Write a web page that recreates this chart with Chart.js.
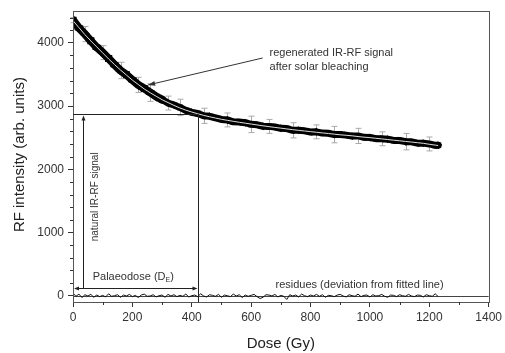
<!DOCTYPE html>
<html><head><meta charset="utf-8">
<script src="https://cdn.jsdelivr.net/npm/chart.js@4.4.1/dist/chart.umd.min.js"></script>
<style>html,body{margin:0;padding:0;background:#fff}#wrap{width:505px;height:353px}</style>
</head><body><div id="wrap"><canvas id="c" width="505" height="353"></canvas></div>
<script>
// ---- data ----
const xTicks = [0,200,400,600,800,1000,1200,1400];
const yTicks = [0,1000,2000,3000,4000];
const fitDose = [0,20,40,60,80,100,120,140,160,180,200,220,240,260,280,300,320,340,360,380,400,420,440,460,480,500,520,540,560,580,600,620,640,660,680,700,720,740,760,780,800,820,840,860,880,900,920,940,960,980,1000,1020,1040,1060,1080,1100,1120,1140,1160,1180,1200,1220,1230];
const fitSignal = [4350,4240,4130,4030,3935,3840,3745,3655,3570,3490,3410,3340,3270,3210,3155,3100,3055,3010,2970,2935,2905,2878,2852,2830,2810,2790,2774,2758,2743,2729,2715,2701,2687,2674,2662,2650,2638,2626,2615,2605,2595,2585,2575,2565,2555,2545,2537,2529,2517,2508,2500,2490,2480,2470,2460,2450,2440,2430,2420,2410,2395,2382,2375];
const measDose = fitDose;
const measSignal = [4358,4235,4138,4032,3928,3845,3752,3652,3562,3494,3412,3334,3278,3214,3150,3102,3047,3016,2978,2932,2900,2882,2845,2838,2812,2787,2780,2750,2747,2736,2710,2703,2680,2678,2668,2647,2643,2616,2617,2608,2589,2592,2572,2569,2548,2550,2540,2524,2527,2505,2503,2484,2482,2476,2456,2455,2436,2434,2412,2413,2400,2378,2380];
const measErr = [40,40,120,40,40,110,40,40,130,40,40,120,40,140,40,40,110,40,130,40,40,40,120,40,40,40,110,40,40,40,130,40,40,110,40,40,40,120,40,40,40,110,40,40,130,40,40,40,120,40,40,40,110,40,40,40,130,40,40,40,110,40,40];
const residStep = 10;
const residValues = [40,-10,25,-30,15,-5,20,-25,10,-15,5,-20,30,-10,0,15,-25,10,-5,20,-15,5,-30,10,25,-10,-5,15,-20,0,10,-25,20,-5,15,-15,5,-10,25,-20,0,10,-15,30,-5,-20,15,5,-10,20,-25,10,0,-15,25,-5,15,-30,10,-10,5,20,-15,-45,-25,15,10,-5,20,-20,5,-10,-60,15,-5,10,-20,25,0,-15,10,-5,20,-10,15,-25,5,0,-15,10,20,-5,-20,15,0,-10,25,-15,5,10,-20,15,-5,0,20,-10,-25,10,5,-15,15,0,-10,20,-5,-15,10,5,-20,15,0,-10,30,-15];
const palaeoDose = 420;
const naturalSignal = 2875;
const arrowDose = 33;
const arrowLevel = 125;

const pts = (xs, ys) => ys.map((y,i)=>({x:xs[i], y}));
const residPts = residValues.map((v,i)=>({x:i*residStep, y:v}));
const FONT = '"Liberation Sans", Arial, sans-serif';
const TXT = '#333';

function arrowHead(ctx, x, y, ang, len, w) {
  ctx.save(); ctx.translate(x,y); ctx.rotate(ang);
  ctx.beginPath(); ctx.moveTo(0,0); ctx.lineTo(-len, w); ctx.lineTo(-len,-w); ctx.closePath(); ctx.fill();
  ctx.restore();
}

const decor = {
  id:'decor',
  beforeDatasetsDraw(chart){
    const ctx=chart.ctx, X=v=>chart.scales.x.getPixelForValue(v), Y=v=>chart.scales.y.getPixelForValue(v);
    ctx.save();
    ctx.strokeStyle='#aaa'; ctx.lineWidth=1;
    measSignal.forEach((v,i)=>{
      const x=Math.round(X(measDose[i]))+0.5, e=measErr[i];
      ctx.beginPath();
      ctx.moveTo(x,Y(v-e)); ctx.lineTo(x,Y(v+e));
      ctx.moveTo(x-3,Y(v-e)); ctx.lineTo(x+3,Y(v-e));
      ctx.moveTo(x-3,Y(v+e)); ctx.lineTo(x+3,Y(v+e));
      ctx.stroke();
    });
    const a=chart.chartArea;
    ctx.strokeStyle='#444';
    const y0=Math.round(Y(0))+0.5;
    ctx.beginPath(); ctx.moveTo(a.left,y0); ctx.lineTo(a.right,y0); ctx.stroke();
    ctx.restore();
  },
  afterDraw(chart){
    const ctx=chart.ctx, a=chart.chartArea, xs=chart.scales.x, ys=chart.scales.y;
    const X=v=>xs.getPixelForValue(v), Y=v=>ys.getPixelForValue(v);
    ctx.save();
    ctx.strokeStyle='#555'; ctx.lineWidth=1;
    ctx.strokeRect(Math.round(a.left)+0.5, Math.round(a.top)+0.5, Math.round(a.right-a.left), Math.round(a.bottom-a.top));
    ctx.strokeStyle='#333'; ctx.beginPath();
    for(let v=100; v<1400; v+=200){ const x=Math.round(X(v))+0.5; ctx.moveTo(x,a.bottom); ctx.lineTo(x,a.bottom+3); }
    for(let v=200; v<4500; v+=200){ if(v%1000===0) continue; const y=Math.round(Y(v))+0.5; ctx.moveTo(a.left,y); ctx.lineTo(a.left-3,y); }
    ctx.stroke();
    ctx.strokeStyle='#222'; ctx.fillStyle='#222';
    const yn=Math.round(Y(naturalSignal))+0.5, xp=Math.round(X(palaeoDose))+0.5;
    ctx.beginPath();
    ctx.moveTo(a.left,yn); ctx.lineTo(xp,yn);
    ctx.moveTo(xp,yn); ctx.lineTo(xp,a.bottom);
    ctx.stroke();
    const xa=Math.round(X(arrowDose))+0.5, ya=Math.round(Y(arrowLevel))+0.5;
    ctx.beginPath(); ctx.moveTo(xa,ya); ctx.lineTo(xa,yn+4); ctx.stroke();
    arrowHead(ctx, xa, yn+1, -Math.PI/2, 5, 2);
    ctx.beginPath(); ctx.moveTo(a.left+4,ya); ctx.lineTo(xp-4,ya); ctx.stroke();
    arrowHead(ctx, a.left+1, ya, Math.PI, 5, 2);
    arrowHead(ctx, xp-1, ya, 0, 5, 2);
    ctx.strokeStyle='#333'; ctx.fillStyle='#333';
    const sx=X(639), sy=Y(3760), ex=X(253), ey=Y(3333);
    ctx.beginPath(); ctx.moveTo(sx,sy); ctx.lineTo(ex,ey); ctx.stroke();
    arrowHead(ctx, ex, ey, Math.atan2(ey-sy, ex-sx), 7, 2.5);
    ctx.fillStyle=TXT; ctx.textBaseline='middle';
    ctx.font='11px '+FONT; ctx.textAlign='left';
    ctx.fillText('regenerated IR-RF signal', X(662), Y(3840));
    ctx.fillText('after solar bleaching', X(662), Y(3617));
    ctx.fillText('residues (deviation from fitted line)', X(682), Y(165));
    const p1='Palaeodose (D', p2='E', p3=')';
    ctx.font='11px '+FONT; const w1=ctx.measureText(p1).width, w3=ctx.measureText(p3).width;
    ctx.font='7px '+FONT; const w2=ctx.measureText(p2).width;
    let tx=X(203)-(w1+w2+w3)/2, ty=Y(300);
    ctx.font='11px '+FONT; ctx.fillText(p1,tx,ty);
    ctx.font='7px '+FONT; ctx.fillText(p2,tx+w1,ty+3);
    ctx.font='11px '+FONT; ctx.fillText(p3,tx+w1+w2,ty);
    ctx.save(); ctx.translate(X(75), Y(1564)); ctx.rotate(-Math.PI/2);
    ctx.font='10px '+FONT; ctx.textAlign='center'; ctx.fillText('natural IR-RF signal',0,0);
    ctx.restore();
    ctx.fillStyle='#222'; ctx.font='15px '+FONT; ctx.textAlign='center';
    ctx.fillText('Dose (Gy)', (a.left+a.right)/2, 344);
    ctx.save(); ctx.translate(20,(a.top+a.bottom)/2-2); ctx.rotate(-Math.PI/2);
    ctx.fillText('RF intensity (arb. units)',0,0); ctx.restore();
    ctx.restore();
  }
};

new Chart(document.getElementById('c'), {
  type:'line',
  data:{datasets:[
    {label:'fit', data:pts(fitDose,fitSignal), borderColor:'#ddd', borderWidth:1, pointRadius:0, tension:0, order:0},
    {label:'measured', data:pts(measDose,measSignal), borderColor:'#000', borderWidth:7, tension:0,
      pointStyle:'rect', pointRadius:c=>c.parsed && c.parsed.x<300?5:4, pointRotation:c=>(c.dataIndex%3)*20,
      pointBackgroundColor:'#000', pointBorderColor:'#000', pointBorderWidth:0,
      borderJoinStyle:'round', borderCapStyle:'round', order:1,
      segment:{borderWidth:c=>c.p0.parsed.x<300?8:7}},
    {label:'residues', data:residPts, borderColor:'#111', borderWidth:1, pointRadius:0, tension:0, order:2}
  ]},
  options:{
    responsive:false, animation:false, devicePixelRatio:1,
    layout:{padding:{top:10,right:15,left:0,bottom:0}},
    plugins:{legend:{display:false}, tooltip:{enabled:false}},
    scales:{
      x:{type:'linear', min:0, max:1400,
        afterBuildTicks:s=>{s.ticks=xTicks.map(v=>({value:v}));},
        afterFit:s=>{s.height=51;},
        grid:{display:true, drawOnChartArea:false, drawTicks:true, tickLength:5, color:'#333'},
        border:{display:true, color:'#333'},
        ticks:{font:{family:FONT,size:12}, color:TXT, padding:3, maxRotation:0, callback:v=>String(v)}},
      y:{type:'linear', min:-100, max:4500,
        afterBuildTicks:s=>{s.ticks=yTicks.map(v=>({value:v}));},
        afterFit:s=>{s.width=73;},
        grid:{display:true, drawOnChartArea:false, drawTicks:true, tickLength:5, color:'#333'},
        border:{display:true, color:'#333'},
        ticks:{font:{family:FONT,size:12}, color:TXT, padding:4, callback:v=>String(v)}}
    }
  },
  plugins:[decor]
});
</script></body></html>
